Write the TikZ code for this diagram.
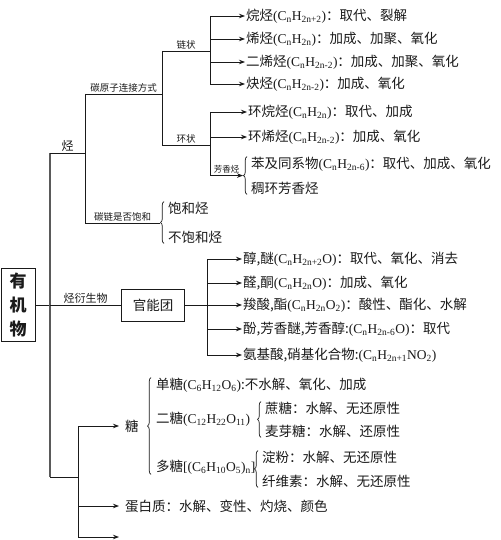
\documentclass[tikz,border=0pt]{standalone}
\usepackage{fontspec}
\setmainfont{Liberation Serif}
\newfontfamily\cjk{Noto Sans CJK SC}
\usetikzlibrary{arrows.meta,calc,decorations.pathreplacing}
\definecolor{ink}{HTML}{1A1A1A}
\definecolor{trunk}{HTML}{5A5A5A}
\newcommand\chem[1]{{\rmfamily #1}}
\newcommand\sbs[1]{\textsubscript{#1}}

\begin{document}
\begin{tikzpicture}[x=1pt,y=-1pt,
  txt/.style={anchor=west,inner xsep=1pt,inner ysep=0pt,text=ink,font=\cjk\fontsize{13.5}{15}\selectfont},
  lbl/.style={font=\cjk\fontsize{9.5}{10}\selectfont,text=ink,inner sep=1.5pt},
  ln/.style={line width=0.9pt,draw=ink},
  trunkln/.style={line width=1.5pt,draw=trunk},
  arr/.style={ln,-{Stealth[length=6pt,width=4.5pt]}},
  brc/.style={ln,line width=0.7pt,decorate,decoration={brace,amplitude=3.5pt}},
  box/.style={draw=ink,line width=0.9pt,align=center,text=ink}]
  \fill[white] (0,0) rectangle (500,540);
  \useasboundingbox (0,0) rectangle (500,540);

  % ===== root =====
  \node[box,font=\cjk\bfseries\fontsize{17}{24}\selectfont,minimum width=34pt,minimum height=73pt,inner sep=0pt] (org) at (18,305) {有\\机\\物};
  \coordinate (m) at (50,305);
  \coordinate (mtop) at (50,153);
  \coordinate (mbot) at (50,477);
  \draw[ln] (org) -- (m);
  \draw[trunkln] (mtop) -- (mbot);

  % ===== hydrocarbons =====
  \coordinate (hj) at (85,153);
  \coordinate (htop) at (85,94);
  \coordinate (hbot) at (85,223);
  \draw[ln] (mtop) -- (hj) node[lbl,midway,above,font=\cjk\fontsize{12}{12}\selectfont] {烃};
  \draw[ln] (htop) -- (hbot);
  \coordinate (cj) at (162,94);
  \coordinate (ctop) at (162,51);
  \coordinate (cbot) at (162,145);
  \draw[ln] (htop) -- (cj) node[lbl,midway,above] {碳原子连接方式};
  \draw[ln] (ctop) -- (cbot);

  % ----- chain -----
  \coordinate (lj) at (210,51);
  \draw[ln] (ctop) -- (lj) node[lbl,midway,above] {链状};
  \node[txt] (a1) at (245,16) {烷烃\chem{(C\sbs{n}H\sbs{2n+2})}：取代、裂解};
  \node[txt] (a2) at (245,39) {烯烃\chem{(C\sbs{n}H\sbs{2n})}：加成、加聚、氧化};
  \node[txt] (a3) at (245,62) {二烯烃\chem{(C\sbs{n}H\sbs{2n-2})}：加成、加聚、氧化};
  \node[txt] (a4) at (245,84) {炔烃\chem{(C\sbs{n}H\sbs{2n-2})}：加成、氧化};
  \draw[ln] (lj |- a1) -- (lj |- a4);
  \foreach \n in {a1,a2,a3,a4} \draw[arr] (lj |- \n) -- (\n);

  % ----- ring -----
  \coordinate (rj) at (210,145);
  \draw[ln] (cbot) -- (rj) node[lbl,midway,above] {环状};
  \node[txt] (b1) at (247,112) {环烷烃\chem{(C\sbs{n}H\sbs{2n})}：取代、加成};
  \node[txt] (b2) at (247,137) {环烯烃\chem{(C\sbs{n}H\sbs{2n-2})}：加成、氧化};
  \node[txt] (b3) at (250,164) {苯及同系物\chem{(C\sbs{n}H\sbs{2n-6})}：取代、加成、氧化};
  \node[txt] (b4) at (250,188) {稠环芳香烃};
  \coordinate (fx) at ($(b3.north west)!0.5!(b4.south west)+(-7,0)$);
  \draw[ln] (rj |- b1) -- (rj |- fx);
  \foreach \n in {b1,b2} \draw[arr] (rj |- \n) -- (\n);
  \draw[arr] (rj |- fx) -- (fx) node[lbl,midway,above,font=\cjk\fontsize{8.5}{9}\selectfont] {芳香烃};
  \draw[brc] ([xshift=-3pt]b4.south west) -- ([xshift=-3pt]b3.north west);

  % ----- saturation -----
  \node[txt] (c1) at (167,208) {饱和烃};
  \node[txt] (c2) at (167,237) {不饱和烃};
  \coordinate (sx) at ($(c1.north west)!0.5!(c2.south west)+(-7,0)$);
  \draw[ln] (hbot) -- (hbot -| sx) node[lbl,midway,above] {碳链是否饱和};
  \draw[brc] ([xshift=-3pt]c2.south west) -- ([xshift=-3pt]c1.north west);

  % ===== derivatives =====
  \node[box,font=\cjk\fontsize{13.5}{15}\selectfont,minimum width=63pt,minimum height=32pt] (gfg) at (153,305) {官能团};
  \draw[ln] (m) -- (gfg) node[lbl,midway,above,font=\cjk\fontsize{11}{11}\selectfont] {烃衍生物};
  \coordinate (fj) at (207,305);
  \draw[ln] (gfg) -- (fj);
  \node[txt] (d1) at (242,259) {醇,醚\chem{(C\sbs{n}H\sbs{2n+2}O)}：取代、氧化、消去};
  \node[txt] (d2) at (242,283) {醛,酮\chem{(C\sbs{n}H\sbs{2n}O)}：加成、氧化};
  \node[txt] (d3) at (242,305) {羧酸,酯\chem{(C\sbs{n}H\sbs{2n}O\sbs{2})}：酸性、酯化、水解};
  \node[txt] (d4) at (242,329) {酚,芳香醚,芳香醇:\chem{(C\sbs{n}H\sbs{2n-6}O)}：取代};
  \node[txt] (d5) at (242,355) {氨基酸,硝基化合物:\chem{(C\sbs{n}H\sbs{2n+1}NO\sbs{2})}};
  \draw[ln] (fj |- d1) -- (fj |- d5);
  \foreach \n in {d1,d2,d3,d4,d5} \draw[arr] (fj |- \n) -- (\n);

  % ===== sugars, proteins =====
  \coordinate (bj) at (78,477);
  \draw[ln] (mbot) -- (bj);
  \node[txt,inner xsep=6pt] (sug) at (119,426) {糖};
  \node[txt,inner xsep=6pt] (pro) at (119,506) {蛋白质：水解、变性、灼烧、颜色};
  \coordinate (emp) at (119,537);
  \draw[ln] (bj |- sug) -- (bj |- emp);
  \foreach \n in {sug,pro,emp} \draw[arr] (bj |- \n) -- (\n);

  \node[txt] (f1) at (155,385) {单糖\chem{(C\sbs{6}H\sbs{12}O\sbs{6})}:不水解、氧化、加成};
  \node[txt] (f2) at (155,419) {二糖\chem{(C\sbs{12}H\sbs{22}O\sbs{11})}};
  \node[txt] (f3) at (155,467) {多糖\chem{[(C\sbs{6}H\sbs{10}O\sbs{5})\sbs{n}]}};
  \draw[brc] ([xshift=-4pt]f3.south west) -- ([xshift=-4pt]f1.north west);

  \node[txt] (g1) at (264,408) {蔗糖：水解、无还原性};
  \node[txt] (g2) at (264,431) {麦芽糖：水解、还原性};
  \draw[brc] ([xshift=-3pt]g2.south west) -- ([xshift=-3pt]g1.north west);
  \node[txt] (h1) at (261,457) {淀粉：水解、无还原性};
  \node[txt] (h2) at (261,481) {纤维素：水解、无还原性};
  \draw[brc] ([xshift=-3pt]h2.south west) -- ([xshift=-3pt]h1.north west);
\end{tikzpicture}
\end{document}
